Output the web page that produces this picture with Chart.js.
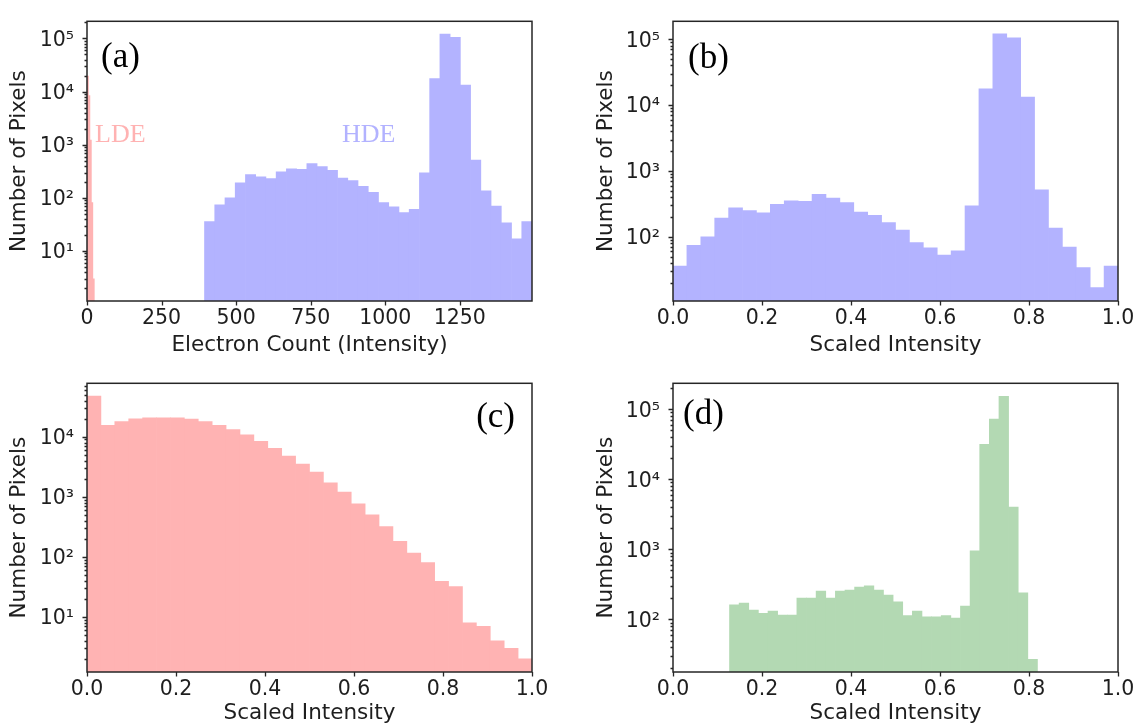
<!DOCTYPE html>
<html>
<head>
<meta charset="utf-8">
<script src="https://cdn.jsdelivr.net/npm/chart.js@4.4.1/dist/chart.umd.min.js"></script>
<style>
  html, body { margin: 0; padding: 0; background: #fff; width: 1137px; height: 723px; overflow: hidden; }
  .panel { position: absolute; }
</style>
</head>
<body>
<div class="panel" style="left:0;top:0"><canvas id="panelA" width="565" height="362"></canvas></div>
<div class="panel" style="left:565px;top:0"><canvas id="panelB" width="572" height="362"></canvas></div>
<div class="panel" style="left:0;top:362px"><canvas id="panelC" width="565" height="364"></canvas></div>
<div class="panel" style="left:565px;top:362px"><canvas id="panelD" width="572" height="364"></canvas></div>
<script>
// HDE histogram (32 bins) - same counts in (a) and scaled in (b)
var hdeCounts = [36, 74, 100, 193, 275, 250, 232, 311, 352, 345, 440, 388, 330, 237, 211, 165,
                 127, 82, 68, 53, 61, 296, 17600, 121000, 104500, 13200, 517, 136, 70, 34, 17, 36];
// LDE sliver near zero in (a)
var ldeCountsA = [19500, 8400, 1230, 82, 3];
// LDE scaled (c), 32 bins
var ldeCounts = [47600, 15500, 17800, 19900, 20700, 20700, 20700, 19700, 17800, 15500, 13100, 10800,
                 8350, 6400, 4760, 3500, 2570, 1710, 1200, 764, 500, 320, 182, 115, 80, 39, 32, 8, 7, 4, 3, 2];
// (d) green histogram, 32 bins
var greenCounts = [162, 171, 136, 122, 132, 115, 115, 202, 202, 254, 202, 254, 262, 290, 303, 262,
                   223, 179, 114, 132, 109, 109, 114, 105, 155, 956, 31600, 72000, 152000, 4000, 240, 27];

var hdeRangeA = [394, 1492];
var ldeRangeA = [0, 24.5];
var scaledRange = [0, 1];
var greenRange = [0.127, 0.819];

var countTicks = [0, 250, 500, 750, 1000, 1250];
var scaledTicks = [0, 0.2, 0.4, 0.6, 0.8, 1.0];
var yTicksA = [10, 100, 1000, 10000, 100000];
var yTicksB = [100, 1000, 10000, 100000];
var yTicksC = [10, 100, 1000, 10000];
var yTicksD = [100, 1000, 10000, 100000];

var RED = 'rgb(255,179,179)', BLUE = 'rgb(179,179,255)', GREEN = 'rgb(179,217,179)';
var INK = '#1e1e1e';
var SANS = 'DejaVu Sans';
var SUP = { 0: '⁰', 1: '¹', 2: '²', 3: '³', 4: '⁴', 5: '⁵' };

function bins(counts, range) {
  var w = (range[1] - range[0]) / counts.length;
  return counts.map(function (c, i) { return { x: range[0] + w * (i + 0.5), y: c }; });
}

function barSet(data, color, axis) {
  return {
    data: data, xAxisID: axis || 'x', backgroundColor: color, borderWidth: 0,
    barPercentage: 1, categoryPercentage: 1, grouped: false
  };
}

// draws the box, matplotlib style ticks and text notes
var frame = {
  id: 'frame',
  afterDraw: function (chart, args, o) {
    var ctx = chart.ctx, a = chart.chartArea, x = chart.scales.x, y = chart.scales.y;
    ctx.save();
    ctx.strokeStyle = '#262626';
    ctx.lineWidth = 1.3;
    ctx.beginPath();
    o.xTicks.forEach(function (v) {
      var px = Math.round(x.getPixelForValue(v)) + 0.5;
      ctx.moveTo(px, a.bottom); ctx.lineTo(px, a.bottom + 4.5);
    });
    for (var e = Math.floor(Math.log10(y.min)); e <= Math.ceil(Math.log10(y.max)); e++) {
      for (var k = 1; k < 10; k++) {
        var v = k * Math.pow(10, e);
        if (v <= y.min || v >= y.max) continue;
        var py = Math.round(y.getPixelForValue(v)) + 0.5;
        ctx.moveTo(a.left, py); ctx.lineTo(a.left - (k === 1 ? 4.5 : 2.5), py);
      }
    }
    ctx.stroke();
    ctx.lineWidth = 1.5;
    ctx.strokeRect(a.left, a.top, a.right - a.left, a.bottom - a.top);
    (o.notes || []).forEach(function (n) {
      ctx.font = n.font;
      ctx.fillStyle = n.color;
      ctx.textAlign = n.align;
      ctx.textBaseline = 'middle';
      var px = n.xv !== undefined ? x.getPixelForValue(n.xv) : (n.align === 'right' ? a.right - n.dx : a.left + n.dx);
      var py = n.yv !== undefined ? y.getPixelForValue(n.yv) : a.top + n.dy;
      ctx.fillText(n.text, px, py);
    });
    ctx.restore();
  }
};

function makePanel(id, c) {
  var canvas = document.getElementById(id);
  var W = canvas.width, H = canvas.height;
  var scales = {
    x: {
      type: 'linear', min: c.xMin, max: c.xMax, offset: false,
      afterFit: function (s) { s.height = H - c.area.b; },
      afterBuildTicks: function (s) { s.ticks = c.xTicks.map(function (v) { return { value: v }; }); },
      grid: { display: false, drawTicks: true, tickLength: 4, offset: false },
      border: { display: false },
      ticks: {
        autoSkip: false, maxRotation: 0, padding: 1, color: INK,
        font: { family: SANS, size: 20.5 },
        callback: c.xFmt
      },
      title: { display: true, text: c.xTitle, color: INK, font: { family: SANS, size: 21.5 }, padding: { top: 0, bottom: c.xTitlePad } }
    },
    y: {
      type: 'logarithmic', min: c.yMin, max: c.yMax,
      afterFit: function (s) { s.width = c.area.l; },
      afterBuildTicks: function (s) { s.ticks = c.yTicks.map(function (v) { return { value: v, major: true }; }); },
      grid: { display: false, drawTicks: true, tickLength: 4 },
      border: { display: false },
      ticks: {
        autoSkip: false, padding: 9, labelOffset: 2, color: INK,
        font: { family: SANS, size: 20.5 },
        callback: function (v) { return '10' + SUP[Math.round(Math.log10(v))]; }
      },
      title: { display: true, text: 'Number of Pixels', color: INK, font: { family: SANS, size: 21.5 }, padding: { top: c.yTitleX - 13, bottom: 0 } }
    }
  };
  if (c.extraAxis) {
    scales.x2 = { type: 'linear', display: false, min: c.xMin, max: c.xMax, offset: false, grid: { offset: false } };
  }
  return new Chart(canvas, {
    type: 'bar',
    data: { datasets: c.datasets },
    options: {
      responsive: false,
      animation: false,
      events: [],
      layout: { padding: { left: 0, top: c.area.t, right: W - c.area.r, bottom: 0 } },
      scales: scales,
      plugins: {
        legend: { display: false },
        tooltip: { enabled: false },
        frame: { xTicks: c.xTicks, notes: c.notes }
      }
    },
    plugins: [frame]
  });
}

var fmtCount = function (v) { return String(v); };
var fmtScaled = function (v) { return v.toFixed(1); };

makePanel('panelA', {
  area: { l: 87, t: 12, r: 532, b: 301 },
  xMin: 0, xMax: hdeRangeA[1], xTicks: countTicks, xFmt: fmtCount,
  xTitle: 'Electron Count (Intensity)', xTitlePad: 4,
  yMin: 1.15, yMax: 2.1e5, yTicks: yTicksA, yTitleX: 20,
  extraAxis: true,
  datasets: [barSet(bins(hdeCounts, hdeRangeA), BLUE, 'x'), barSet(bins(ldeCountsA, ldeRangeA), RED, 'x2')],
  notes: [
    { text: '(a)', font: '35px "Liberation Serif"', color: '#000', align: 'left', dx: 14, dy: 37 },
    { text: 'LDE', font: '26px "Liberation Serif"', color: 'rgb(255,178,178)', align: 'left', xv: 27, yv: 1500 },
    { text: 'HDE', font: '26px "Liberation Serif"', color: 'rgb(178,178,255)', align: 'left', xv: 855, yv: 1500 }
  ]
});

makePanel('panelB', {
  area: { l: 108, t: 12, r: 553, b: 301 },
  xMin: 0, xMax: 1, xTicks: scaledTicks, xFmt: fmtScaled,
  xTitle: 'Scaled Intensity', xTitlePad: 4,
  yMin: 10.6, yMax: 1.87e5, yTicks: yTicksB, yTitleX: 42,
  datasets: [barSet(bins(hdeCounts, scaledRange), BLUE)],
  notes: [{ text: '(b)', font: '35px "Liberation Serif"', color: '#000', align: 'left', dx: 15, dy: 38 }]
});

makePanel('panelC', {
  area: { l: 87, t: 20, r: 532, b: 310 },
  xMin: 0, xMax: 1, xTicks: scaledTicks, xFmt: fmtScaled,
  xTitle: 'Scaled Intensity', xTitlePad: 0,
  yMin: 1.21, yMax: 7.75e4, yTicks: yTicksC, yTitleX: 20,
  datasets: [barSet(bins(ldeCounts, scaledRange), RED)],
  notes: [{ text: '(c)', font: '35px "Liberation Serif"', color: '#000', align: 'right', dx: 17, dy: 35 }]
});

makePanel('panelD', {
  area: { l: 108, t: 20, r: 553, b: 310 },
  xMin: 0, xMax: 1, xTicks: scaledTicks, xFmt: fmtScaled,
  xTitle: 'Scaled Intensity', xTitlePad: 0,
  yMin: 17.8, yMax: 2.34e5, yTicks: yTicksD, yTitleX: 42,
  datasets: [barSet(bins(greenCounts, greenRange), GREEN)],
  notes: [{ text: '(d)', font: '35px "Liberation Serif"', color: '#000', align: 'left', dx: 10, dy: 32 }]
});
</script>
</body>
</html>
